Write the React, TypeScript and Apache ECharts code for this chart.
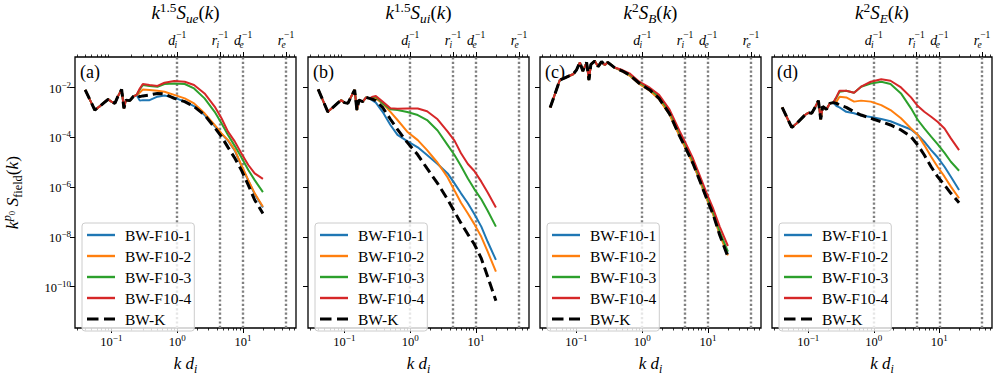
import React, { useEffect, useRef } from 'react';
import * as echarts from 'echarts';

const SERIF = 'Liberation Serif, DejaVu Serif, serif';

const SERIES_NAMES = ['BW-F10-1', 'BW-F10-2', 'BW-F10-3', 'BW-F10-4', 'BW-K'];
const SERIES_COLORS = ['#1f77b4', '#ff7f0e', '#2ca02c', '#d62728', '#000000'];
const LEGEND_ICONS = [
  'path://M0,0h28v2.4h-28z',
  'path://M0,0h28v2.4h-28z',
  'path://M0,0h28v2.4h-28z',
  'path://M0,0h28v2.4h-28z',
  'path://M0,0h11.5v3.2h-11.5zM17,0h11v3.2h-11z',
];

// k d_i sampling (shared low-k part, then the part where runs differ)
const kLow = [0.04, 0.056, 0.067, 0.089, 0.1, 0.113, 0.125, 0.143, 0.155, 0.166, 0.19, 0.214, 0.241];
const kHigh = [0.27, 0.3, 0.38, 0.5, 0.64, 0.9, 1.3, 1.8, 2.6, 3.7, 4.7, 5.9, 7.5, 9.4, 12, 15, 20];

// values are log10 of k^p0 S_field(k)
// (a) k^1.5 S_ue
const aLow = [-2.09, -2.9, -2.74, -2.47, -2.56, -2.63, -2.36, -2.07, -2.83, -2.5, -2.52, -2.36, -2.29];
const aF1 = [-2.52, -2.5, -2.5, -2.36, -2.31, -2.4, -2.56, -2.74, -3.1, -3.54, -3.86, -4.13, -4.53, -5.14, -5.74, -6.28, -6.82];
const aF2 = [-2.2, -2.07, -2.09, -2.12, -2.16, -2.29, -2.43, -2.63, -3.03, -3.5, -3.84, -4.11, -4.51, -5.11, -5.72, -6.25, -6.79];
const aF3 = [-2.07, -1.89, -1.93, -1.96, -1.85, -1.83, -1.85, -2.03, -2.43, -2.97, -3.43, -3.9, -4.35, -4.8, -5.31, -5.72, -6.2];
const aF4 = [-2.03, -1.85, -1.89, -1.93, -1.8, -1.73, -1.76, -1.89, -2.23, -2.76, -3.23, -3.77, -4.17, -4.64, -5.11, -5.45, -5.67];
const aK = [-2.36, -2.33, -2.29, -2.23, -2.25, -2.43, -2.56, -2.76, -3.1, -3.6, -3.97, -4.4, -4.84, -5.31, -5.92, -6.52, -7.06];

// (b) k^1.5 S_ui
const bLow = [-2.07, -2.97, -2.79, -2.5, -2.6, -2.63, -2.39, -2.09, -2.9, -2.5, -2.56, -2.39, -2.43];
const bF1 = [-2.52, -2.6, -2.97, -3.5, -3.9, -4.15, -4.4, -4.71, -5.07, -5.45, -5.85, -6.25, -6.65, -7.08, -7.59, -8.2, -8.93];
const bF2 = [-2.47, -2.43, -2.63, -2.97, -3.3, -3.77, -4.11, -4.51, -5.02, -5.61, -6.14, -6.63, -7.06, -7.49, -8.0, -8.6, -9.4];
const bF3 = [-2.39, -2.36, -2.63, -2.87, -2.9, -2.98, -3.1, -3.3, -3.72, -4.31, -4.71, -5.15, -5.65, -6.08, -6.49, -6.95, -7.59];
const bF4 = [-2.36, -2.33, -2.56, -2.83, -2.85, -2.84, -2.84, -2.95, -3.27, -3.77, -4.13, -4.64, -5.07, -5.35, -5.78, -6.22, -6.82];
const bK = [-2.47, -2.52, -2.79, -3.27, -3.68, -4.2, -4.7, -5.25, -5.85, -6.5, -6.99, -7.45, -7.9, -8.3, -8.87, -9.61, -10.57];

// (c) k^2 S_B
const cLow = [-2.8, -1.69, -1.6, -1.46, -1.29, -0.98, -1.33, -0.98, -1.69, -1.06, -0.93, -1.15, -0.95];
const cF1 = [-1.09, -0.98, -1.19, -1.33, -1.5, -1.84, -2.1, -2.44, -3.06, -3.94, -4.49, -5.04, -5.74, -6.42, -7.1, -7.88, -8.7];
const cF2 = [-1.09, -0.98, -1.19, -1.34, -1.51, -1.85, -2.12, -2.46, -3.08, -3.96, -4.51, -5.06, -5.75, -6.43, -7.12, -7.9, -8.75];
const cF3 = [-1.09, -0.98, -1.19, -1.31, -1.46, -1.8, -2.05, -2.37, -2.97, -3.84, -4.4, -4.95, -5.65, -6.33, -7.02, -7.78, -8.6];
const cF4 = [-1.09, -0.98, -1.19, -1.29, -1.42, -1.76, -2.0, -2.29, -2.88, -3.75, -4.3, -4.85, -5.55, -6.21, -6.88, -7.59, -8.37];
const cK = [-1.09, -0.98, -1.19, -1.33, -1.49, -1.82, -2.09, -2.43, -3.05, -3.95, -4.5, -5.05, -5.75, -6.43, -7.12, -7.93, -8.8];

// (d) k^2 S_E
const dLow = [-2.79, -3.6, -3.43, -3.1, -3.01, -3.03, -2.83, -2.52, -3.27, -2.76, -2.87, -2.63, -2.6];
const dF1 = [-2.74, -2.79, -2.97, -3.03, -3.12, -3.18, -3.26, -3.35, -3.52, -3.68, -3.9, -4.17, -4.51, -4.8, -5.18, -5.58, -6.12];
const dF2 = [-2.56, -2.36, -2.39, -2.56, -2.52, -2.56, -2.7, -2.9, -3.23, -3.64, -3.9, -4.31, -4.78, -5.18, -5.58, -5.98, -6.45];
const dF3 = [-2.39, -2.16, -2.12, -2.2, -1.96, -1.83, -1.76, -1.85, -2.23, -2.83, -3.3, -3.64, -3.97, -4.27, -4.62, -4.98, -5.34];
const dF4 = [-2.36, -2.12, -2.12, -2.2, -1.96, -1.76, -1.66, -1.72, -1.99, -2.39, -2.74, -2.97, -3.17, -3.37, -3.64, -4.04, -4.51];
const dK = [-2.63, -2.7, -2.79, -2.97, -3.1, -3.23, -3.37, -3.5, -3.7, -3.97, -4.31, -4.71, -5.18, -5.58, -5.92, -6.25, -6.63];

// axes
const X_MAJOR = [0.1, 1, 10];
const X_MINOR = [0.03, 0.04, 0.05, 0.06, 0.07, 0.08, 0.09, 0.2, 0.3, 0.4, 0.5, 0.6, 0.7, 0.8, 0.9, 2, 3, 4, 5, 6, 7, 8, 9, 20, 30, 40, 50, 60];
const Y_MAJOR = [1e-10, 1e-8, 1e-6, 1e-4, 1e-2];
const SCALE_K = [1, 4.47, 10, 44.7];
const SCALE_LABELS = ['{i|d}{sb|i}{sp|−1}', '{i|r}{sb|i}{sp|−1}', '{i|d}{sb|e}{sp|−1}', '{i|r}{sb|e}{sp|−1}'];
const X_MIN = 0.028;
const X_MAX = 63.6;
const Y_MIN = 2.14e-12;
const Y_MAX = 0.172;

const TITLES = [
  '{i|k}{sp|1.5}{i|S}{sb|ue}{n|(}{i|k}{n|)}',
  '{i|k}{sp|1.5}{i|S}{sb|ui}{n|(}{i|k}{n|)}',
  '{i|k}{sp|2}{i|S}{sb|B}{n|(}{i|k}{n|)}',
  '{i|k}{sp|2}{i|S}{sb|E}{n|(}{i|k}{n|)}',
];
const LETTERS = ['(a)', '(b)', '(c)', '(d)'];
const X_NAME = '{i|k}{n| }{i|d}{sb|i}';
const Y_NAME = '{i|k}{spi|p}{ssb|0}{i| S}{sbr|field}{n|(}{i|k}{n|)}';

const PANELS = [
  { low: aLow, high: [aF1, aF2, aF3, aF4, aK] },
  { low: bLow, high: [bF1, bF2, bF3, bF4, bK] },
  { low: cLow, high: [cF1, cF2, cF3, cF4, cK] },
  { low: dLow, high: [dF1, dF2, dF3, dF4, dK] },
];

// layout
const LEFTS = [75, 308, 540, 772];
const WIDTHS = [221, 221, 221, 220];
const TOP = 57;
const HEIGHT = 271;

const MATH_RICH = (base: number) => ({
  i: { fontFamily: SERIF, fontStyle: 'italic', fontSize: base, color: '#000', padding: [0, 0, 3, 0], verticalAlign: 'bottom' },
  n: { fontFamily: SERIF, fontSize: base, color: '#000', padding: [0, 0, 3, 0], verticalAlign: 'bottom' },
  sp: { fontFamily: SERIF, fontSize: base * 0.7, color: '#000', padding: [0, 0, base * 0.62, 0], verticalAlign: 'bottom' },
  spi: { fontFamily: SERIF, fontStyle: 'italic', fontSize: base * 0.7, color: '#000', padding: [0, 0, base * 0.62, 0], verticalAlign: 'bottom' },
  sb: { fontFamily: SERIF, fontStyle: 'italic', fontSize: base * 0.7, color: '#000', padding: [0, 0, 0, 0], verticalAlign: 'bottom' },
  sbr: { fontFamily: SERIF, fontSize: base * 0.7, color: '#000', padding: [0, 0, 0, 0], verticalAlign: 'bottom' },
  ssb: { fontFamily: SERIF, fontSize: base * 0.5, color: '#000', padding: [0, 0, base * 0.45, 0], verticalAlign: 'bottom' },
});

const TOP_RICH = {
  i: { fontFamily: SERIF, fontStyle: 'italic', fontSize: 14, color: '#000', padding: [0, 0, 3, 0], verticalAlign: 'bottom' },
  sb: { fontFamily: SERIF, fontStyle: 'italic', fontSize: 9.5, color: '#000', width: 1, verticalAlign: 'bottom' },
  sp: { fontFamily: SERIF, fontSize: 9.5, color: '#000', padding: [0, 0, 10, 0], verticalAlign: 'bottom' },
};

const TICK_RICH = {
  b: { fontFamily: SERIF, fontSize: 12.5, color: '#000', verticalAlign: 'bottom' },
  s: { fontFamily: SERIF, fontSize: 9, color: '#000', padding: [0, 0, 6, 0], verticalAlign: 'bottom' },
};

const powLabel = (v: number) => {
  const e = Math.round(Math.log10(v));
  return `{b|10}{s|${e < 0 ? '−' + -e : e}}`;
};

function buildOption() {
  const grid: any[] = [];
  const xAxis: any[] = [];
  const yAxis: any[] = [];
  const series: any[] = [];
  const legend: any[] = [];
  const graphic: any[] = [];
  const kAll = kLow.concat(kHigh);

  PANELS.forEach((p, i) => {
    grid.push({
      left: LEFTS[i], top: TOP, width: WIDTHS[i], height: HEIGHT,
      show: true, borderColor: '#000', borderWidth: 1.3, backgroundColor: 'rgba(0,0,0,0)',
      containLabel: false, outerBoundsMode: 'none',
    });
    const base = { type: 'log', logBase: 10, gridIndex: i, min: X_MIN, max: X_MAX, axisLine: { show: false }, splitLine: { show: false }, minorTick: { show: false } };
    xAxis.push({
      ...base, position: 'bottom',
      axisTick: { show: true, inside: false, length: 5, lineStyle: { color: '#000', width: 1 }, customValues: X_MAJOR },
      axisLabel: { show: true, customValues: X_MAJOR, formatter: powLabel, rich: TICK_RICH, margin: 5 },
      name: X_NAME, nameLocation: 'middle', nameGap: 27, nameTextStyle: { rich: MATH_RICH(17) },
    });
    xAxis.push({
      ...base, position: 'bottom',
      axisTick: { show: true, inside: false, length: 2.5, lineStyle: { color: '#000', width: 0.8 }, customValues: X_MINOR },
      axisLabel: { show: false },
    });
    xAxis.push({
      ...base, position: 'top',
      axisTick: { show: true, inside: false, length: 5, lineStyle: { color: '#000', width: 1 }, customValues: SCALE_K },
      axisLabel: {
        show: true, customValues: SCALE_K, margin: 7, rich: TOP_RICH,
        formatter: (v: number) => {
          let best = 0;
          SCALE_K.forEach((s, j) => { if (Math.abs(Math.log(s / v)) < Math.abs(Math.log(SCALE_K[best] / v))) best = j; });
          return SCALE_LABELS[best];
        },
      },
    });
    xAxis.push({
      ...base, position: 'top',
      axisTick: { show: true, inside: false, length: 2.5, lineStyle: { color: '#000', width: 0.8 }, customValues: X_MINOR },
      axisLabel: { show: false },
    });
    yAxis.push({
      type: 'log', logBase: 10, gridIndex: i, min: Y_MIN, max: Y_MAX, position: 'left',
      axisLine: { show: false }, splitLine: { show: false }, minorTick: { show: false },
      axisTick: { show: true, inside: false, length: 5, lineStyle: { color: '#000', width: 1 }, customValues: Y_MAJOR },
      axisLabel: { show: i === 0, customValues: Y_MAJOR, formatter: powLabel, rich: TICK_RICH, margin: 4 },
      name: i === 0 ? Y_NAME : '', nameLocation: 'middle', nameRotate: 90, nameGap: 51,
      nameTextStyle: { rich: MATH_RICH(17.5) },
    });

    p.high.forEach((vals, j) => {
      const logs = p.low.concat(vals);
      const s: any = {
        type: 'line', name: SERIES_NAMES[j], xAxisIndex: i * 4, yAxisIndex: i,
        data: kAll.map((k, n) => [k, Math.pow(10, logs[n])]),
        symbol: 'none', showSymbol: false, silent: true, z: 2 + j,
        itemStyle: { color: SERIES_COLORS[j] },
        lineStyle: j === 4
          ? { color: '#000', width: 3, type: [10, 5] }
          : { color: SERIES_COLORS[j], width: 2 },
        emphasis: { disabled: true },
      };
      if (j === 0) {
        s.markLine = {
          silent: true, symbol: 'none', z: 1, animation: false,
          label: { show: false },
          lineStyle: { color: '#808080', width: 2.4, type: [2.2, 2.2] },
          emphasis: { disabled: true },
          data: SCALE_K.map((v) => ({ xAxis: v })),
        };
      }
      series.push(s);
    });

    legend.push({
      data: SERIES_NAMES.map((n, j) => ({ name: n, icon: LEGEND_ICONS[j] })),
      orient: 'vertical', left: LEFTS[i] + 7, top: 223,
      itemWidth: 28, itemHeight: 14, itemGap: 5, padding: [4, 3, 4, 5],
      symbolKeepAspect: true,
      backgroundColor: 'rgba(255,255,255,0.8)', borderColor: '#cccccc', borderWidth: 1, borderRadius: 3,
      selectedMode: false,
      textStyle: { fontFamily: 'Liberation Serif', fontSize: 15.5, color: '#000', padding: [0, 0, 0, 5] },
    });

    graphic.push({
      type: 'text', x: LEFTS[i] + WIDTHS[i] / 2, y: 13, silent: true,
      style: { text: TITLES[i], rich: MATH_RICH(19), align: 'center', verticalAlign: 'middle', fill: '#000' },
    });
    graphic.push({
      type: 'text', x: LEFTS[i] + 5, y: 63, silent: true,
      style: { text: LETTERS[i], fontFamily: SERIF, fontSize: 18, fill: '#000', align: 'left', verticalAlign: 'top' },
    });
  });

  return {
    animation: false,
    backgroundColor: '#ffffff',
    textStyle: { fontFamily: SERIF },
    grid, xAxis, yAxis, series, legend, graphic,
  };
}

export default function App() {
  const ref = useRef<HTMLDivElement>(null);
  useEffect(() => {
    if (!ref.current) return;
    const chart = echarts.init(ref.current, undefined, { renderer: 'svg' });
    chart.setOption(buildOption() as any);
    return () => chart.dispose();
  }, []);
  return (
    <div
      ref={ref}
      style={{ position: 'fixed', left: 0, top: 0, width: 996, height: 379, background: '#fff' }}
    />
  );
}
